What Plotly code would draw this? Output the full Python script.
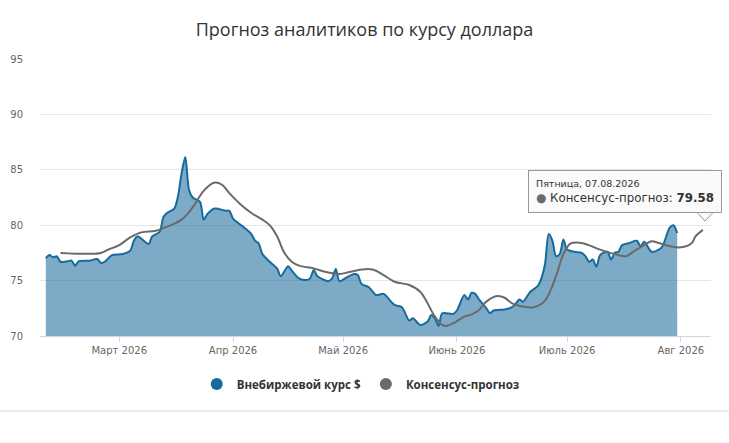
import plotly.graph_objects as go
from datetime import datetime

# ---------------- data ----------------
otc_dates = [
    "2026-02-09", "2026-02-10", "2026-02-11", "2026-02-12", "2026-02-13", "2026-02-15",
    "2026-02-16", "2026-02-17", "2026-02-18", "2026-02-20", "2026-02-21", "2026-02-23",
    "2026-02-24", "2026-02-25", "2026-02-26", "2026-02-27", "2026-03-02", "2026-03-04",
    "2026-03-05", "2026-03-06", "2026-03-07", "2026-03-09", "2026-03-10", "2026-03-12",
    "2026-03-13", "2026-03-14", "2026-03-16", "2026-03-17", "2026-03-18", "2026-03-19",
    "2026-03-20", "2026-03-21", "2026-03-23", "2026-03-24", "2026-03-25", "2026-03-27",
    "2026-03-30", "2026-03-31", "2026-04-01", "2026-04-04", "2026-04-06", "2026-04-07",
    "2026-04-08", "2026-04-09", "2026-04-11", "2026-04-13", "2026-04-14", "2026-04-16",
    "2026-04-17", "2026-04-19", "2026-04-21", "2026-04-22", "2026-04-23", "2026-04-24",
    "2026-04-27", "2026-04-28", "2026-04-29", "2026-04-30", "2026-05-02", "2026-05-04",
    "2026-05-05", "2026-05-06", "2026-05-08", "2026-05-10", "2026-05-12", "2026-05-15",
    "2026-05-17", "2026-05-19", "2026-05-20", "2026-05-22", "2026-05-24", "2026-05-25",
    "2026-05-26", "2026-05-27", "2026-05-28", "2026-05-31", "2026-06-01", "2026-06-03",
    "2026-06-04", "2026-06-05", "2026-06-06", "2026-06-07", "2026-06-09", "2026-06-10",
    "2026-06-11", "2026-06-14", "2026-06-16", "2026-06-17", "2026-06-18", "2026-06-19",
    "2026-06-21", "2026-06-23", "2026-06-24", "2026-06-25", "2026-06-26", "2026-06-27",
    "2026-06-28", "2026-06-29", "2026-06-30", "2026-07-01", "2026-07-03", "2026-07-05",
    "2026-07-06", "2026-07-07", "2026-07-08", "2026-07-09", "2026-07-10", "2026-07-12",
    "2026-07-13", "2026-07-14", "2026-07-15", "2026-07-16", "2026-07-18", "2026-07-20",
    "2026-07-21", "2026-07-22", "2026-07-24", "2026-07-26", "2026-07-27", "2026-07-29",
    "2026-07-30", "2026-07-31",
]
otc_values = [
    77.0, 77.3, 77.1, 77.2, 76.7, 76.75,
    76.8, 76.35, 76.75, 76.8, 76.8, 76.95,
    76.6, 76.7, 77.0, 77.3, 77.4, 77.7,
    78.6, 79.0, 78.8, 78.3, 79.0, 79.4,
    80.7, 81.1, 81.5, 82.6, 84.7, 86.15,
    83.2, 82.5, 82.1, 80.5, 81.0, 81.5,
    81.3, 81.3, 80.6, 79.8, 79.2, 78.6,
    78.35, 77.4, 76.7, 76.1, 75.4, 76.3,
    75.9, 75.2, 75.05, 75.2, 75.95, 75.4,
    74.95, 75.2, 76.05, 74.95, 75.3, 75.6,
    75.5, 74.7, 74.4, 73.7, 73.8, 72.8,
    72.6, 71.4, 71.6, 71.0, 71.3, 71.9,
    71.6, 70.9, 72.05, 72.0, 72.3, 73.7,
    73.3, 73.9, 73.8, 73.3, 72.5, 72.05,
    72.3, 72.4, 72.6, 72.9, 73.3, 73.1,
    74.0, 74.5, 75.2, 76.5, 79.2, 78.6,
    77.2, 77.4, 78.7, 77.8, 77.6, 77.5,
    77.2, 76.7, 76.9, 76.25, 77.3, 77.6,
    76.9, 77.5, 77.6, 78.2, 78.4, 78.6,
    78.1, 78.5, 77.6, 77.8, 78.1, 79.8,
    80.0, 79.3,
]

forecast_dates = [
    "2026-02-13", "2026-02-24", "2026-02-26", "2026-03-01", "2026-03-04", "2026-03-07",
    "2026-03-11", "2026-03-14", "2026-03-18", "2026-03-21", "2026-03-24", "2026-03-27",
    "2026-03-29", "2026-03-31", "2026-04-03", "2026-04-06", "2026-04-09", "2026-04-11",
    "2026-04-13", "2026-04-15", "2026-04-17", "2026-04-19", "2026-04-23", "2026-04-26",
    "2026-04-30", "2026-05-03", "2026-05-06", "2026-05-09", "2026-05-12", "2026-05-15",
    "2026-05-19", "2026-05-22", "2026-05-24", "2026-05-26", "2026-05-28", "2026-05-29",
    "2026-05-31", "2026-06-03", "2026-06-05", "2026-06-07", "2026-06-09", "2026-06-12",
    "2026-06-14", "2026-06-16", "2026-06-19", "2026-06-22", "2026-06-25", "2026-06-28",
    "2026-06-30", "2026-07-02", "2026-07-05", "2026-07-10", "2026-07-14", "2026-07-17",
    "2026-07-19", "2026-07-22", "2026-07-24", "2026-07-26", "2026-07-29", "2026-08-01",
    "2026-08-04", "2026-08-05", "2026-08-07",
]
forecast_values = [
    77.5, 77.5, 77.8, 78.2, 78.9, 79.35,
    79.5, 79.85, 80.5, 81.6, 83.1, 83.85,
    83.65, 82.9, 81.9, 81.1, 80.5, 80.0,
    79.0, 77.5, 76.7, 76.35, 76.1, 75.8,
    75.6, 75.8, 76.0, 76.0, 75.5, 74.9,
    74.6, 74.0, 72.95, 71.75, 71.0, 70.9,
    71.15, 71.75, 71.95, 72.35, 73.1, 73.6,
    73.45, 72.95, 72.65, 72.6, 73.2, 75.4,
    77.4, 78.35, 78.4, 77.8, 77.4, 77.2,
    77.6, 78.2, 78.55, 78.4, 78.1, 78.0,
    78.4, 79.0, 79.58,
]

series_names = ["Внебиржевой курс $", "Консенсус-прогноз"]
title_text = "Прогноз аналитиков по курсу доллара"
tick_dates = ["2026-03-01", "2026-04-01", "2026-05-01", "2026-06-01", "2026-07-01", "2026-08-01"]
tick_labels = ["Март 2026", "Апр 2026", "Май 2026", "Июнь 2026", "Июль 2026", "Авг 2026"]
y_ticks = [70, 75, 80, 85, 90, 95]
weekday_names = ["Понедельник", "Вторник", "Среда", "Четверг", "Пятница", "Суббота", "Воскресенье"]

# ---------------- styles ----------------
BLUE = "#176a9c"
FILL = "rgba(23,106,156,0.56)"
GRAY = "#6a6a6a"
W, H = 729, 443
ML, MR, MT, MB = 40, 18, 59, 107
pw, ph = W - ML - MR, H - MT - MB

def px_x(p):
    return (p - ML) / pw

def px_y(p):
    return (H - MB - p) / ph

fig = go.Figure()
fig.add_trace(go.Scatter(
    x=otc_dates, y=otc_values, mode="lines", name=series_names[0],
    line=dict(color=BLUE, width=2, shape="spline", smoothing=0.8),
    fill="tozeroy", fillcolor=FILL, showlegend=False, hoverinfo="skip",
))
fig.add_trace(go.Scatter(
    x=forecast_dates, y=forecast_values, mode="lines", name=series_names[1],
    line=dict(color=GRAY, width=2, shape="spline", smoothing=1.0),
    showlegend=False, hoverinfo="skip",
))
# legend entries (circle symbols like the original)
for nm, col in zip(series_names, [BLUE, GRAY]):
    fig.add_trace(go.Scatter(
        x=[None], y=[None], mode="markers", name=nm,
        marker=dict(color=col, size=11, symbol="circle"),
    ))

# tooltip for the last forecast point
last_d = datetime.strptime(forecast_dates[-1], "%Y-%m-%d")
tip = (
    f"<span style='font-size:9.5px'>{weekday_names[last_d.weekday()]}, {last_d.strftime('%d.%m.%Y')}</span><br>"
    f"<span style='color:{GRAY}'>●</span> {series_names[1]}: <b>{forecast_values[-1]:.2f}</b>"
)
fig.add_annotation(
    xref="paper", yref="paper", x=px_x(528), y=px_y(170), xanchor="left", yanchor="top",
    text=tip, showarrow=False, align="left",
    font=dict(family="DejaVu Sans", size=11.8, color="#333333"),
    bgcolor="rgba(250,250,250,0.95)", bordercolor="#999999", borderwidth=1, borderpad=7,
)
# tooltip pointer
fig.add_shape(
    type="path", xref="paper", yref="paper",
    path=f"M {px_x(697)} {px_y(212.5)} L {px_x(705)} {px_y(221)} L {px_x(713)} {px_y(212.5)} Z",
    fillcolor="rgba(250,250,250,1)", line=dict(color="#999999", width=1),
)
fig.add_shape(
    type="line", xref="paper", yref="paper",
    x0=px_x(698), x1=px_x(712), y0=px_y(212.5), y1=px_y(212.5),
    line=dict(color="rgba(250,250,250,1)", width=2),
)
# bottom separator
fig.add_shape(
    type="line", xref="paper", yref="paper",
    x0=px_x(0), x1=px_x(W), y0=px_y(411), y1=px_y(411),
    line=dict(color="#ececec", width=2),
)

fig.update_layout(
    width=W, height=H,
    margin=dict(l=ML, r=MR, t=MT, b=MB, autoexpand=False),
    paper_bgcolor="white", plot_bgcolor="white",
    title=dict(text=title_text, x=0.5, xanchor="center", y=1 - 30 / H, yanchor="middle",
               font=dict(family="Open Sans, sans-serif", size=18, color="#333333")),
    showlegend=True,
    legend=dict(orientation="h", x=0.478, xanchor="center", y=px_y(384), yanchor="middle",
                font=dict(family="Open Sans, sans-serif", size=11.5, color="#333333",
                          weight="bold"),
                itemsizing="constant", itemwidth=30, tracegroupgap=0),
    xaxis=dict(
        type="date", range=["2026-02-07 10:00", "2026-08-09 05:00"],
        tickvals=tick_dates, ticktext=tick_labels,
        showgrid=False, showline=True, linecolor="#ccd6eb", linewidth=1,
        ticks="outside", ticklen=5, tickcolor="#ccd6eb",
        tickfont=dict(family="DejaVu Sans", size=10, color="#666666"),
        zeroline=False, automargin=False,
    ),
    yaxis=dict(
        range=[70, 95], tickvals=y_ticks, showgrid=True, gridcolor="#e6e6e6", gridwidth=1,
        zeroline=False, showline=False,
        ticks="outside", ticklen=14, tickcolor="rgba(0,0,0,0)",
        tickfont=dict(family="DejaVu Sans", size=10, color="#666666"),
        automargin=False,
    ),
)

fig.write_html("out.html", config={"displayModeBar": False},
               post_script="document.body.style.margin='0';")
